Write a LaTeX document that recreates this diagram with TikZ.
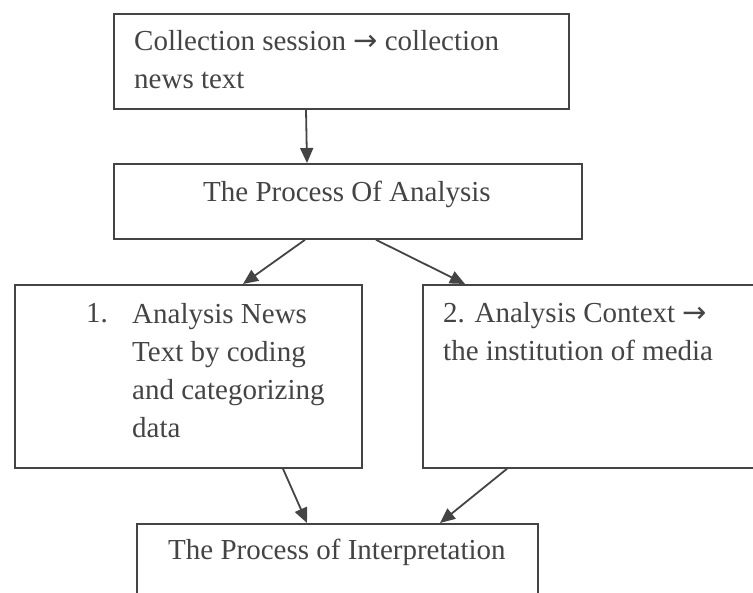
\documentclass[tikz,border=0pt]{standalone}
\usepackage{fontspec}
\setmainfont{Liberation Serif}
\newfontfamily\arrowfont{DejaVu Sans}
\newcommand{\rarr}{{\arrowfont →}}
\usetikzlibrary{arrows.meta}
\usetikzlibrary{positioning}
\definecolor{ink}{HTML}{444444}

\begin{document}
\begin{tikzpicture}[x=1pt, y=-1pt, >={Triangle[length=15pt,width=13pt]}, arrows=->,
    box/.style={rectangle, draw=ink, line width=1.8pt, anchor=north west, inner sep=0pt, arrows=-},
    txt/.style={anchor=base west, align=left, inner sep=0pt, text=ink,
                font=\fontsize{29}{38}\selectfont},
    link/.style={draw=ink, line width=1.8pt},
  ]
\clip (0,0) rectangle (753,593);
% Boxes
\node(collect) [box, minimum width=455pt, minimum height=95pt]  at (113,13)  {};
\node(analysis)[box, minimum width=468pt, minimum height=75pt]  at (113,163) {};
\node(news)    [box, minimum width=347pt, minimum height=183pt] at (14,284)  {};
\node(context) [box, minimum width=360pt, minimum height=183pt] at (422,284) {};
\node(interp)  [box, minimum width=401pt, minimum height=100pt] at (136,523) {};
% Texts (base = baseline of the last line)
\node(collecttxt) [txt] at (134,89)  {Collection session \rarr{} collection\\news text};
\node(analysistxt)[txt] at (203,202) {The Process Of Analysis};
\node(newsnum)    [txt] at (86,323)  {1.};
\node(newstxt)    [txt] at (132,438) {Analysis News\\Text by coding\\and categorizing\\data};
\node(contexttxt) [txt] at (443,361) {2. Analysis Context \rarr\\the institution of media};
\node(interptxt)  [txt] at (168,560) {The Process of Interpretation};
% Arrows
\draw[link] ([xshift=193pt]collect.south west) -- ([xshift=194pt]analysis.north west);
\draw[link] ([xshift=192pt]analysis.south west) -- ([xshift=229pt]news.north west);
\draw[link] ([xshift=263pt]analysis.south west) -- ([xshift=43pt]context.north west);
\draw[link] ([xshift=269pt]news.south west) -- ([xshift=171pt]interp.north west);
\draw[link] ([xshift=85pt]context.south west) -- ([xshift=304pt]interp.north west);
\end{tikzpicture}
\end{document}
